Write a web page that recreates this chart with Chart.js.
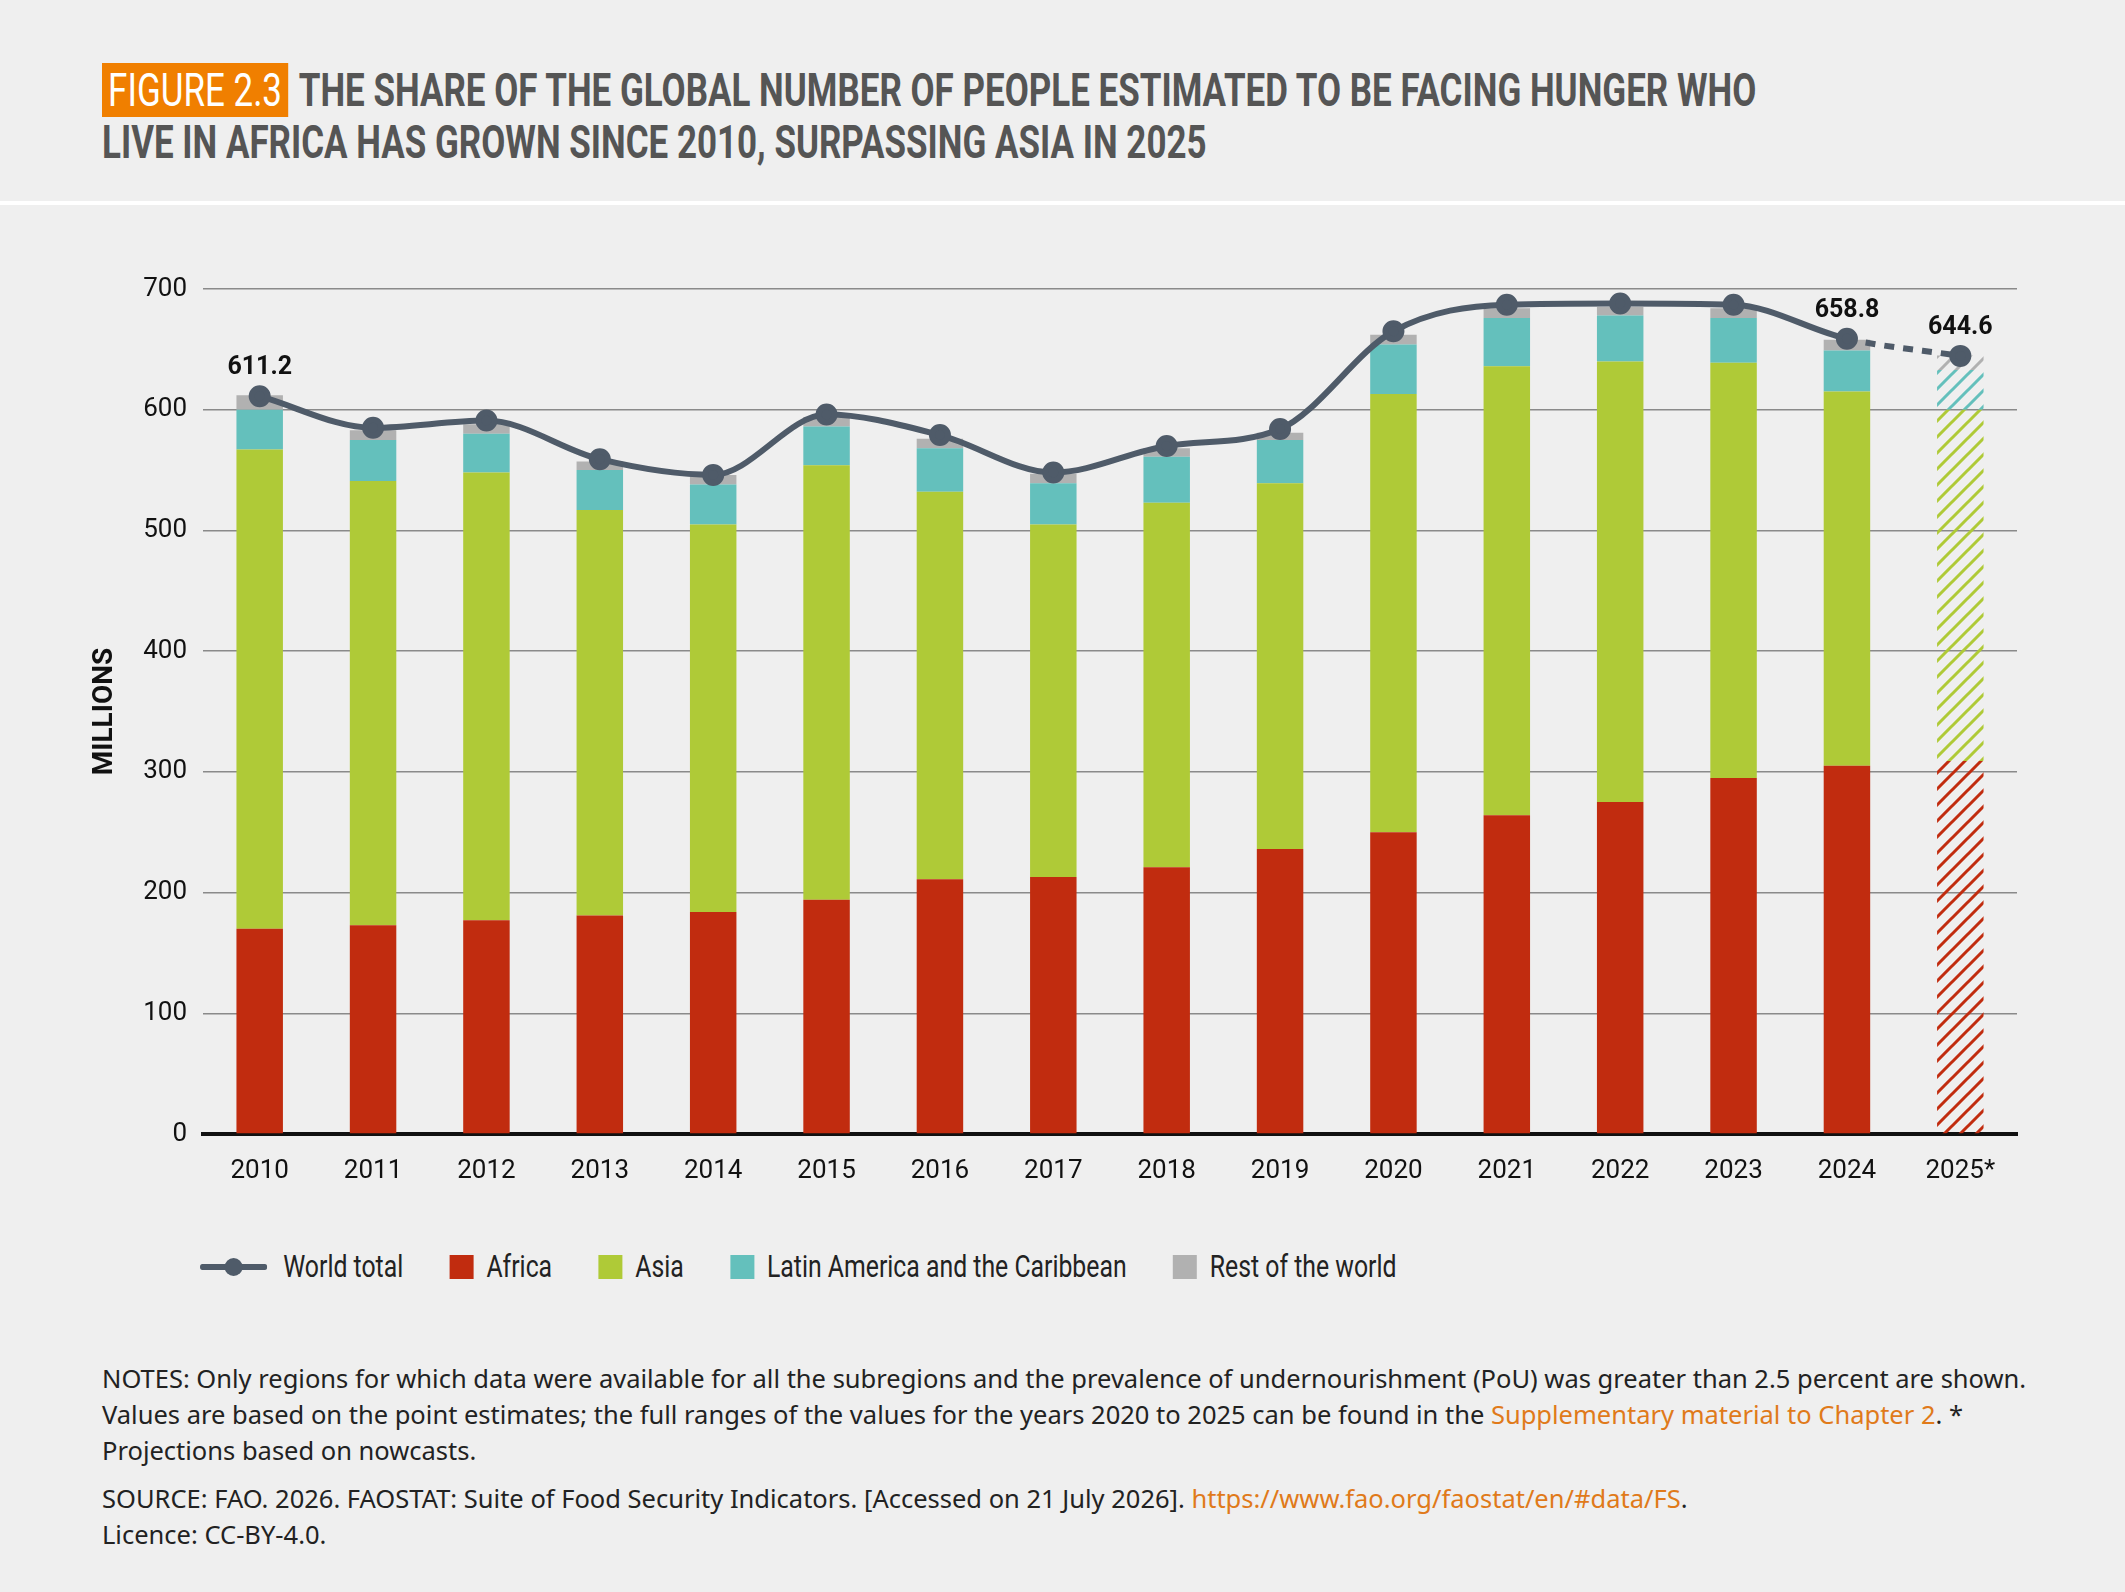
<!DOCTYPE html>
<html>
<head>
<meta charset="utf-8">
<script src="https://cdn.jsdelivr.net/npm/chart.js@4"></script>
<style>
  body { margin: 0; width: 2125px; height: 1592px; background: #efefef; position: relative; overflow: hidden; font-family: "Noto Sans", sans-serif; }
  #title { position: absolute; left: 102px; top: 64px; white-space: nowrap; font-family: "Roboto", "Noto Sans", sans-serif; font-weight: bold; font-size: 46px; line-height: 52px; color: #555; transform: scaleX(0.76); transform-origin: left top; }
  #title .fig { background: #f07f00; color: #fff; font-weight: normal; padding: 0 8px; margin-right: 14px; }
  #sep { position: absolute; left: 0; top: 201px; width: 2125px; height: 4px; background: #fff; }
  #wrap { position: absolute; left: 0; top: 230px; width: 2125px; height: 980px; }
  #legend { position: absolute; top: 1248px; left: 200px; display: flex; align-items: center; font-family: "Roboto", sans-serif; font-size: 31px; color: #222; transform: scaleX(0.8); transform-origin: left center; }
  #legend .it { display: flex; align-items: center; margin-right: 58px; }
  #legend .sw { width: 30px; height: 24px; margin-right: 16px; }
  #notes { position: absolute; left: 102px; top: 1360px; width: 1925px; font-size: 25.5px; line-height: 36px; color: #222; }
  #notes p { margin: 0 0 12px 0; }
  .o { color: #e07a1a; }
</style>
</head>
<body>
<div id="title"><span class="fig">FIGURE 2.3</span>THE SHARE OF THE GLOBAL NUMBER OF PEOPLE ESTIMATED TO BE FACING HUNGER WHO<br>LIVE IN AFRICA HAS GROWN SINCE 2010, SURPASSING ASIA IN 2025</div>
<div id="sep"></div>
<div id="wrap"><canvas id="c"></canvas></div>
<div id="legend">
  <div class="it"><svg width="84" height="24" style="margin-right:20px"><line x1="3" y1="12" x2="81" y2="12" stroke="#4f5b69" stroke-width="6" stroke-linecap="round"/><circle cx="42" cy="12" r="9" fill="#4f5b69" transform="translate(42 0) scale(1.25 1) translate(-42 0)"/></svg>World total</div>
  <div class="it"><span class="sw" style="background:#c12c0f"></span>Africa</div>
  <div class="it"><span class="sw" style="background:#afca37"></span>Asia</div>
  <div class="it"><span class="sw" style="background:#64c0bc"></span>Latin America and the Caribbean</div>
  <div class="it"><span class="sw" style="background:#b1b1b1"></span>Rest of the world</div>
</div>
<div id="notes">
  <p>NOTES: Only regions for which data were available for all the subregions and the prevalence of undernourishment (PoU) was greater than 2.5 percent are shown. Values are based on the point estimates; the full ranges of the values for the years 2020 to 2025 can be found in the <span class="o">Supplementary material to Chapter 2</span>. * Projections based on nowcasts.</p>
  <p>SOURCE: FAO. 2026. FAOSTAT: Suite of Food Security Indicators. [Accessed on 21 July 2026]. <span class="o">https://www.fao.org/faostat/en/#data/FS</span>.<br>Licence: CC-BY-4.0.</p>
</div>
<script>
const years = ['2010','2011','2012','2013','2014','2015','2016','2017','2018','2019','2020','2021','2022','2023','2024','2025*'];
const africa = [170, 173, 177, 181, 184, 194, 211, 213, 221, 236, 250, 264, 275, 295, 305, 309];
const asia = [397, 368, 371, 336, 321, 360, 321, 292, 302, 303, 363, 372, 365, 344, 310, 291];
const latam = [33, 34, 32, 33, 33, 32, 36, 34, 38, 36, 41, 40, 38, 37, 34, 33];
const rest = [12, 8, 8, 7, 8, 8, 8, 8, 7, 6, 8, 8, 7, 8, 9, 12];
const worldTotal = [611.2, 585, 591, 559, 546, 596, 579, 548, 570, 584, 665, 687, 688, 687, 658.8, 644.6];
const labelledPoints = [0, 14, 15];

function hatch(color) {
  const c = document.createElement('canvas');
  c.width = 16; c.height = 16;
  const g = c.getContext('2d');
  g.strokeStyle = color; g.lineWidth = 3;
  g.beginPath();
  g.moveTo(0, 16); g.lineTo(16, 0);
  g.moveTo(-8, 8); g.lineTo(8, -8);
  g.moveTo(8, 24); g.lineTo(24, 8);
  g.stroke();
  return g.createPattern(c, 'repeat');
}
function fills(color) {
  const p = hatch(color);
  return years.map((y, i) => i === years.length - 1 ? p : color);
}

const tickFont = 'Roboto, sans-serif';

const pointLabels = {
  id: 'pointLabels',
  afterDatasetsDraw(chart) {
    const meta = chart.getDatasetMeta(0);
    const ctx = chart.ctx;
    ctx.save();
    ctx.font = 'bold 25px Roboto, sans-serif';
    ctx.fillStyle = '#111';
    ctx.textAlign = 'center';
    labelledPoints.forEach(i => {
      const p = meta.data[i];
      ctx.fillText(worldTotal[i].toFixed(1), p.x, p.y - 22);
    });
    ctx.restore();
  }
};

const barOpts = { stack: 's', categoryPercentage: 1, barPercentage: 0.41, borderWidth: 0 };

new Chart(document.getElementById('c'), {
  data: {
    labels: years,
    datasets: [
      {
        type: 'line', label: 'World total', data: worldTotal, order: 0,
        borderColor: '#4f5b69', backgroundColor: '#4f5b69', borderWidth: 6,
        pointRadius: 8, pointHoverRadius: 8, cubicInterpolationMode: 'monotone',
        segment: { borderDash: ctx => ctx.p1DataIndex === years.length - 1 ? [10, 9] : undefined }
      },
      { type: 'bar', label: 'Africa', data: africa, backgroundColor: fills('#c12c0f'), order: 1, ...barOpts },
      { type: 'bar', label: 'Asia', data: asia, backgroundColor: fills('#afca37'), order: 1, ...barOpts },
      { type: 'bar', label: 'Latin America and the Caribbean', data: latam, backgroundColor: fills('#64c0bc'), order: 1, ...barOpts },
      { type: 'bar', label: 'Rest of the world', data: rest, backgroundColor: fills('#b1b1b1'), order: 1, ...barOpts }
    ]
  },
  options: {
    responsive: true, maintainAspectRatio: false, animation: false,
    layout: { padding: { top: 59, right: 108, left: 84, bottom: 0 } },
    plugins: { legend: { display: false }, tooltip: { enabled: false } },
    scales: {
      x: {
        stacked: true,
        grid: { display: false },
        border: { color: '#111', width: 4 },
        ticks: { color: '#111', font: { family: tickFont, size: 26 }, padding: 14 },
        afterFit: s => { s.height = 76; }
      },
      y: {
        stacked: true, min: 0, max: 700,
        ticks: { stepSize: 100, color: '#111', font: { family: tickFont, size: 26 }, padding: 16 },
        grid: { color: '#8a8a8a', lineWidth: 1.5, drawTicks: false },
        border: { display: false },
        title: { display: true, text: 'MILLIONS', color: '#111', font: { family: tickFont, size: 28, weight: 'bold' } },
        afterFit: s => { s.width = 119; }
      }
    }
  },
  plugins: [pointLabels]
});
</script>
</body>
</html>
